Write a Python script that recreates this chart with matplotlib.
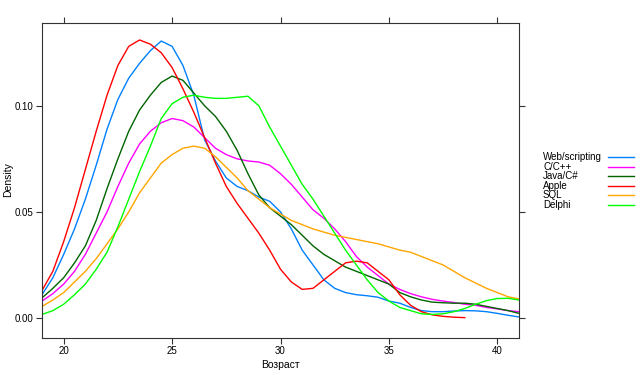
import numpy as np
import matplotlib
matplotlib.use("Agg")
import matplotlib.pyplot as plt
from matplotlib.lines import Line2D

plt.rcParams['font.family'] = ['Liberation Sans', 'DejaVu Sans']

# ages on a half-year grid, densities
age = np.arange(19, 41.01, 0.5)

web = [0.011, 0.019, 0.030, 0.042, 0.056, 0.072, 0.089, 0.103, 0.113, 0.120,
       0.126, 0.1305, 0.128, 0.119, 0.105, 0.084, 0.074, 0.066, 0.062, 0.060,
       0.057, 0.055, 0.050, 0.042, 0.032, 0.025, 0.018, 0.014, 0.012, 0.011,
       0.0105, 0.0098, 0.008, 0.007, 0.005, 0.0035, 0.003, 0.003, 0.0033, 0.0035,
       0.0034, 0.003, 0.0022, 0.0013, 0.0005]
cpp = [0.008, 0.0115, 0.016, 0.022, 0.030, 0.040, 0.050, 0.062, 0.073, 0.082,
       0.088, 0.092, 0.094, 0.093, 0.090, 0.085, 0.080, 0.077, 0.075, 0.074,
       0.0735, 0.072, 0.068, 0.063, 0.057, 0.051, 0.047, 0.042, 0.036, 0.029,
       0.024, 0.020, 0.016, 0.0135, 0.0115, 0.010, 0.0088, 0.008, 0.0073, 0.0065,
       0.006, 0.005, 0.0043, 0.0035, 0.003]
java = [0.0095, 0.014, 0.019, 0.026, 0.034, 0.046, 0.061, 0.075, 0.088, 0.098,
        0.105, 0.111, 0.114, 0.112, 0.106, 0.100, 0.095, 0.088, 0.079, 0.068,
        0.058, 0.052, 0.048, 0.044, 0.039, 0.034, 0.030, 0.027, 0.024, 0.022,
        0.020, 0.018, 0.016, 0.012, 0.010, 0.0085, 0.0075, 0.0072, 0.007, 0.007,
        0.0065, 0.0055, 0.0045, 0.0035, 0.0022]
apple = [0.013, 0.022, 0.036, 0.052, 0.070, 0.088, 0.105, 0.119, 0.128, 0.131,
         0.129, 0.125, 0.118, 0.108, 0.097, 0.085, 0.073, 0.062, 0.054, 0.047,
         0.040, 0.032, 0.023, 0.017, 0.0135, 0.014, 0.018, 0.022, 0.026, 0.0268,
         0.026, 0.022, 0.018, 0.011, 0.006, 0.003, 0.0015, 0.0008, 0.0004, 0.0002]
sql = [0.0055, 0.0085, 0.012, 0.017, 0.022, 0.028, 0.035, 0.042, 0.050, 0.059,
       0.066, 0.073, 0.077, 0.080, 0.081, 0.080, 0.076, 0.071, 0.066, 0.060,
       0.056, 0.052, 0.049, 0.046, 0.044, 0.042, 0.0405, 0.039, 0.038, 0.037,
       0.036, 0.035, 0.0335, 0.032, 0.031, 0.029, 0.027, 0.025, 0.022, 0.019,
       0.0165, 0.014, 0.012, 0.010, 0.009]
delphi = [0.0017, 0.0035, 0.0065, 0.011, 0.016, 0.023, 0.031, 0.043, 0.056, 0.069,
          0.081, 0.094, 0.101, 0.104, 0.105, 0.104, 0.1035, 0.1035, 0.104, 0.1045,
          0.100, 0.090, 0.081, 0.072, 0.063, 0.056, 0.048, 0.040, 0.032, 0.025,
          0.018, 0.012, 0.008, 0.005, 0.0035, 0.002, 0.0017, 0.002, 0.003, 0.0045,
          0.0065, 0.0082, 0.0092, 0.0093, 0.0085]

names = ['Web/scripting', 'C/C++', 'Java/C#', 'Apple', 'SQL', 'Delphi']
series = [web, cpp, java, apple, sql, delphi]
colors = ['#0080ff', '#ff00ff', '#006400', '#ff0000', '#ffa500', '#00ff00']

fig = plt.figure(figsize=(6.4, 3.75), dpi=100)
ax = fig.add_axes([42/640, 1 - 338/375, 477/640, 315/375])

for s, c in zip(series, colors):
    ax.plot(age[:len(s)], s, color=c, lw=1.0)

ax.set_xlim(19, 41)
ax.set_ylim(-0.0094, 0.139)
ax.set_xticks([20, 25, 30, 35, 40])
ax.set_yticks([0.0, 0.05, 0.10])
ax.set_yticklabels(['0.00', '0.05', '0.10'])
ax.tick_params(direction='out', length=4, width=0.8, labelsize=7, pad=2,
               top=True, right=True, colors='#333333', labelcolor='black')
for sp in ax.spines.values():
    sp.set_color('#333333')
    sp.set_linewidth(0.8)

# axis titles placed like the lattice original
fig.text(280/640, 1 - 365/375, 'Возраст', fontsize=7.5, ha='center', va='center')
fig.text(8/640, 1 - 180/375, 'Density', fontsize=7.5, rotation=90,
         ha='center', va='center')

# lattice-style key: text left, line right
for i, (n, c) in enumerate(zip(names, colors)):
    y = 1 - (157 + i * 9.6) / 375
    fig.text(543/640, y, n, fontsize=7, va='center', ha='left')
    fig.add_artist(Line2D([608/640, 634/640], [y, y], color=c, lw=1.0,
                          transform=fig.transFigure))

plt.savefig('out.png', dpi=100)
